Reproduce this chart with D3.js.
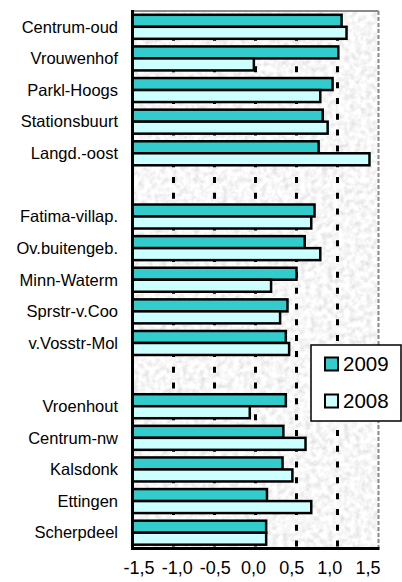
<!DOCTYPE html>
<html>
<head>
<meta charset="utf-8">
<script src="https://cdn.jsdelivr.net/npm/d3@7/dist/d3.min.js"></script>
<style>
  body { margin: 0; background: #fff; }
  svg { display: block; font-family: "Liberation Sans", Arial, sans-serif; }
</style>
</head>
<body>
<svg id="chart"></svg>
<script>
// categories, top to bottom ("" = empty slot between the groups)
var categories = ["Centrum-oud", "Vrouwenhof", "Parkl-Hoogs", "Stationsbuurt", "Langd.-oost", "",
                  "Fatima-villap.", "Ov.buitengeb.", "Minn-Waterm", "Sprstr-v.Coo", "v.Vosstr-Mol", "",
                  "Vroenhout", "Centrum-nw", "Kalsdonk", "Ettingen", "Scherpdeel"];
var values2009 = [1.05, 1.01, 0.94, 0.82, 0.77, null,
                  0.72, 0.60, 0.50, 0.39, 0.37, null,
                  0.37, 0.34, 0.33, 0.14, 0.13];
var values2008 = [1.11, -0.02, 0.79, 0.88, 1.39, null,
                  0.68, 0.79, 0.19, 0.30, 0.41, null,
                  -0.07, 0.61, 0.45, 0.68, 0.13];
var seriesNames = ["2009", "2008"];
var seriesColors = ["#33cccc", "#ccffff"];
var tickValues = [-1.5, -1.0, -0.5, 0.0, 0.5, 1.0, 1.5];
var gridValues = [-1.0, -0.5, 0.0, 0.5, 1.0];

var width = 402,
    height = 582;
var plot = {left: 132.5, right: 378.5, top: 11, bottom: 548.5};

var svg = d3.select("#chart")
    .attr("width", width)
    .attr("height", height);

var x = d3.scaleLinear()
    .domain([-1.5, 1.5])
    .range([plot.left, plot.right]);

// tick labels in the picture sit a bit inside the plot edges
var xLabel = d3.scaleLinear()
    .domain([-1.5, 1.5])
    .range([138.5, 367.5]);

var y = d3.scaleBand()
    .domain(d3.range(categories.length))
    .range([plot.top, plot.bottom]);

var barH = 12;

// grey speckled background
var defs = svg.append("defs");
var filter = defs.append("filter")
    .attr("id", "speckle")
    .attr("x", 0).attr("y", 0).attr("width", "100%").attr("height", "100%");
filter.append("feTurbulence")
    .attr("type", "fractalNoise")
    .attr("baseFrequency", 0.18)
    .attr("numOctaves", 2)
    .attr("seed", 4);
filter.append("feColorMatrix")
    .attr("type", "matrix")
    .attr("values", "0.5 0 0 0 0.68  0.5 0 0 0 0.68  0.5 0 0 0 0.68  0 0 0 0 1");

svg.append("rect")
    .attr("x", plot.left)
    .attr("y", plot.top)
    .attr("width", plot.right - plot.left)
    .attr("height", plot.bottom - plot.top)
    .attr("filter", "url(#speckle)");

// top + right border (grey)
svg.append("path")
    .attr("d", "M" + plot.left + "," + plot.top + "H" + plot.right)
    .attr("stroke", "#8a8a8a")
    .attr("stroke-width", 2)
    .attr("fill", "none");
svg.append("path")
    .attr("d", "M" + plot.right + "," + plot.top + "V" + plot.bottom)
    .attr("stroke", "#8a8a8a")
    .attr("stroke-width", 2)
    .attr("stroke-dasharray", "4,2")
    .attr("fill", "none");

// dotted gridlines
svg.append("g").selectAll("line")
    .data(gridValues).enter()
    .append("line")
    .attr("x1", function(d) { return x(d); })
    .attr("x2", function(d) { return x(d); })
    .attr("y1", plot.top)
    .attr("y2", plot.bottom)
    .attr("stroke", "#000")
    .attr("stroke-width", 3)
    .attr("stroke-dasharray", "6," + (y.bandwidth() / 2 - 6))
    .attr("stroke-dashoffset", y.bandwidth() / 4);

// bars
var rows = categories.map(function(c, i) {
  return {i: i, name: c, v: [values2009[i], values2008[i]]};
}).filter(function(d) { return d.name !== ""; });

var bars = svg.append("g");
seriesNames.forEach(function(s, k) {
  bars.selectAll(".bar-" + s)
    .data(rows).enter()
    .append("rect")
    .attr("class", "bar-" + s)
    .attr("x", x(-1.5))
    .attr("y", function(d) { return y(d.i) + y.bandwidth() / 2 - barH + k * barH; })
    .attr("width", function(d) { return x(d.v[k]) - x(-1.5); })
    .attr("height", barH)
    .attr("fill", seriesColors[k])
    .attr("stroke", "#000")
    .attr("stroke-width", 2.5);
});

// left + bottom axis lines
svg.append("path")
    .attr("d", "M" + plot.left + "," + (plot.top - 1) + "V" + plot.bottom + "H" + (plot.right + 1))
    .attr("stroke", "#000")
    .attr("stroke-width", 3)
    .attr("fill", "none");

// category labels
svg.append("g").selectAll("text")
    .data(rows).enter()
    .append("text")
    .attr("x", 118)
    .attr("y", function(d) { return y(d.i) + y.bandwidth() / 2; })
    .attr("dy", "0.35em")
    .attr("text-anchor", "end")
    .attr("font-size", "16.5px")
    .attr("fill", "#000")
    .text(function(d) { return d.name; });

// x tick labels (hyphen minus, comma decimal)
var xAxis = d3.axisBottom(xLabel)
    .tickValues(tickValues)
    .tickSize(0)
    .tickPadding(0)
    .tickFormat(function(d) { return d.toFixed(1).replace(".", ","); });

var gx = svg.append("g")
    .attr("transform", "translate(0,561)")
    .call(xAxis);
gx.select(".domain").remove();
gx.selectAll("text")
    .attr("font-size", "18px")
    .attr("font-family", "'Liberation Sans', Arial, sans-serif")
    .attr("fill", "#000");

// legend
var legend = svg.append("g");
legend.append("rect")
    .attr("x", 311)
    .attr("y", 345)
    .attr("width", 90)
    .attr("height", 76)
    .attr("fill", "#fff")
    .attr("stroke", "#000")
    .attr("stroke-width", 1.5);

var items = legend.selectAll("g")
    .data(seriesNames).enter()
    .append("g")
    .attr("transform", function(d, i) { return "translate(325," + (364 + i * 37) + ")"; });
items.append("rect")
    .attr("x", 0)
    .attr("y", -6.5)
    .attr("width", 13)
    .attr("height", 13)
    .attr("fill", function(d, i) { return seriesColors[i]; })
    .attr("stroke", "#000")
    .attr("stroke-width", 2);
items.append("text")
    .attr("x", 18)
    .attr("y", 0)
    .attr("dy", "0.36em")
    .attr("font-size", "20.5px")
    .attr("fill", "#000")
    .text(function(d) { return d; });
</script>
</body>
</html>
